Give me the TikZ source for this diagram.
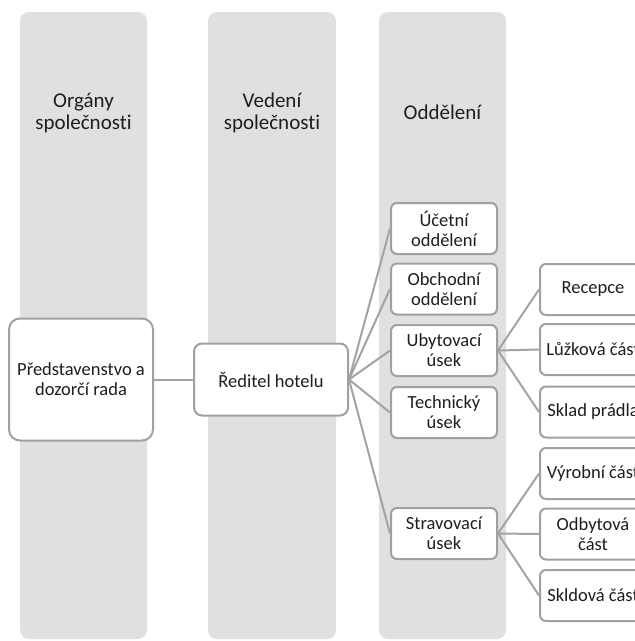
\documentclass[tikz,border=0pt]{standalone}
\usepackage{fontspec}
\setmainfont{Carlito}[Ligatures=NoCommon]
\definecolor{colgray}{HTML}{E0E0E0}
\definecolor{boxgray}{HTML}{A0A0A0}
\definecolor{linegray}{HTML}{A3A3A3}
\definecolor{txt}{HTML}{1E1E1E}
\newcommand\boxfont{\fontsize{18.5}{20}\selectfont}
\newcommand\headfont{\fontsize{21}{22}\selectfont}
\tikzset{
  column/.style={fill=colgray, draw=none, rounded corners=9pt},
  head/.style={font=\headfont, text=txt, align=center},
  orgbox/.style={draw=boxgray, line width=2pt, fill=white, rounded corners=6pt,
    align=center, font=\boxfont, text=txt, inner sep=0pt},
  unit/.style={orgbox, minimum width=106pt, minimum height=51pt},
  link/.style={draw=linegray, line width=2pt}
}
\begin{document}
\begin{tikzpicture}[x=1pt,y=-1pt]
  \useasboundingbox (0,0) rectangle (635,641);
  \clip (0,0) rectangle (635,641);
  % background columns
  \fill[column] (20,12) rectangle (147,639);
  \fill[column] (208,12) rectangle (336,639);
  \fill[column] (379,12) rectangle (506,639);
  % column headings
  \node[head] (h1) at (83.5,113) {Orgány\\společnosti};
  \node[head] (h2) at (272,113) {Vedení\\společnosti};
  \node[head] (h3) at (442.5,112) {Oddělení};
  % boxes
  \node[orgbox, minimum width=144pt, minimum height=122pt, rounded corners=11pt]
    (board) at (81,379.5) {Představenstvo a\\dozorčí rada};
  \node[orgbox, minimum width=154pt, minimum height=72pt, rounded corners=8pt]
    (dir) at (271,379.5) {Ředitel hotelu};
  \node[unit] (acc)  at (444,228.5) {Účetní\\oddělení};
  \node[unit] (sale) at (444,289)   {Obchodní\\oddělení};
  \node[unit] (acco) at (444,350.5) {Ubytovací\\úsek};
  \node[unit] (tech) at (444,412.5) {Technický\\úsek};
  \node[unit] (food) at (444,533.5) {Stravovací\\úsek};
  \node[unit] (rec)  at (593,289.5) {Recepce};
  \node[unit] (beds) at (593,349.5) {Lůžková část};
  \node[unit] (lin)  at (593,412)   {Sklad prádla};
  \node[unit] (prod) at (593,473.5) {Výrobní část};
  \node[unit] (sell) at (593,534)   {Odbytová\\část};
  \node[unit] (stor) at (593,595.5) {Skldová část};
  % connectors between the boxes
  \path[link] (board.east) -- (dir.west);
  \foreach \t in {acc,sale,acco,tech,food}
    \path[link] (dir.east) -- (\t.west);
  \foreach \t in {rec,beds,lin}
    \path[link] (acco.east) -- (\t.west);
  \foreach \t in {prod,sell,stor}
    \path[link] (food.east) -- (\t.west);
\end{tikzpicture}
\end{document}
